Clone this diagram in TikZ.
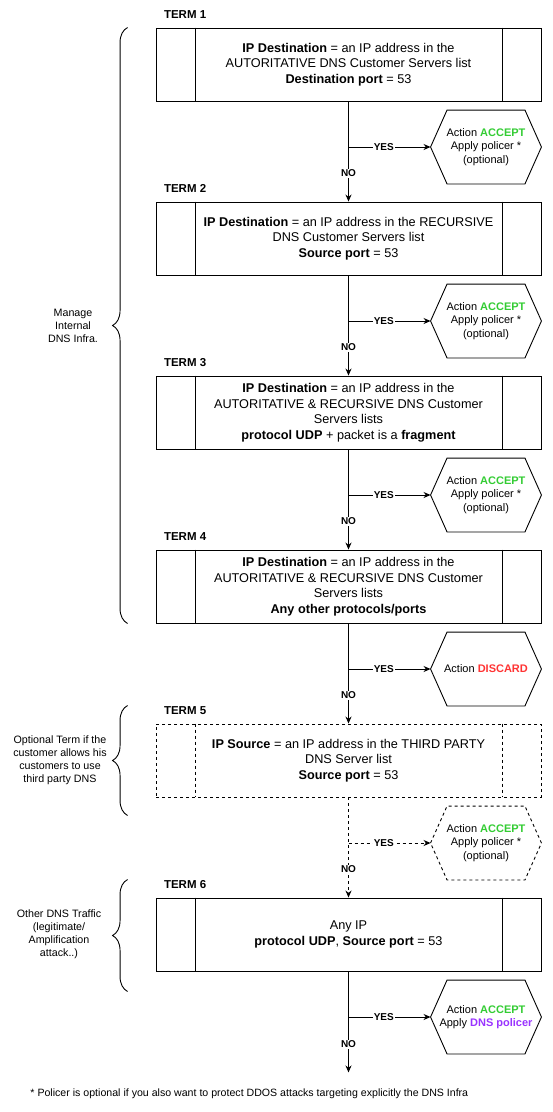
\documentclass[tikz,border=0pt]{standalone}
\usepackage{fontspec}
\setmainfont{Liberation Sans}
\usetikzlibrary{arrows.meta,decorations.pathreplacing}
\definecolor{acceptgreen}{HTML}{33CC33}
\definecolor{discardred}{HTML}{FF3333}
\definecolor{policerpurple}{HTML}{9933FF}
\newcommand{\accepttxt}{\textcolor{acceptgreen}{\bfseries ACCEPT}}
\tikzset{
  term/.style={draw, minimum width=385pt, minimum height=73pt, inner sep=0pt, align=center, font=\fontsize{12.7}{15.5}\selectfont},
  hexa/.style={minimum width=110pt, minimum height=73pt, inner sep=0pt, align=center, font=\fontsize{11}{13.2}\selectfont},
  lbl/.style={fill=white, inner sep=1pt, font=\bfseries\fontsize{10}{12}\selectfont},
  termlbl/.style={anchor=south west, inner sep=0pt, font=\bfseries\fontsize{11.5}{13}\selectfont},
  grp/.style={align=center, font=\fontsize{10.7}{13}\selectfont},
  brc/.style={decorate, decoration={brace, amplitude=15pt}},
  dsh/.style={dash pattern=on 3pt off 3pt},
}

\begin{document}
\begin{tikzpicture}[x=1pt, y=-1pt, line width=0.9pt, >={Stealth[length=7pt,width=6pt]}]
      \useasboundingbox (0,0) rectangle (552,1112);
      % terms
      \node[term] (t1) at (348.5,64.5) {\textbf{IP Destination} = an IP address in the\\AUTORITATIVE DNS Customer Servers list\\\textbf{Destination port} = 53};
      \node[term] (t2) at (348.5,238.5) {\textbf{IP Destination} = an IP address in the RECURSIVE\\DNS Customer Servers list\\\textbf{Source port} = 53};
      \node[term] (t3) at (348.5,412.5) {\textbf{IP Destination} = an IP address in the\\AUTORITATIVE \& RECURSIVE DNS Customer\\Servers lists\\\textbf{protocol UDP} + packet is a \textbf{fragment}};
      \node[term] (t4) at (348.5,586.5) {\textbf{IP Destination} = an IP address in the\\AUTORITATIVE \& RECURSIVE DNS Customer\\Servers lists\\\textbf{Any other protocols/ports}};
      \node[term,dsh] (t5) at (348.5,760.5) {\textbf{IP Source} = an IP address in the THIRD PARTY\\DNS Server list\\\textbf{Source port} = 53};
      \node[term] (t6) at (348.5,934.5) {Any IP\\\textbf{protocol UDP}, \textbf{Source port} = 53};
      \foreach \t in {t1,t2,t3,t4,t6}
        \draw ([xshift=39.5pt]\t.north west) -- ([xshift=39.5pt]\t.south west) ([xshift=-39pt]\t.north east) -- ([xshift=-39pt]\t.south east);
      \draw[dsh] ([xshift=39.5pt]t5.north west) -- ([xshift=39.5pt]t5.south west) ([xshift=-39pt]t5.north east) -- ([xshift=-39pt]t5.south east);
      \foreach \t/\n in {t1/1,t2/2,t3/3,t4/4,t5/5,t6/6}
        \node[termlbl] (l\n) at ([shift={(8pt,8.5pt)}]\t.north west) {TERM \n};
      % actions
      \node[hexa] (a1) at (486,147) {Action \accepttxt\\Apply policer *\\(optional)};
      \node[hexa] (a2) at (486,321) {Action \accepttxt\\Apply policer *\\(optional)};
      \node[hexa] (a3) at (486,495) {Action \accepttxt\\Apply policer *\\(optional)};
      \node[hexa] (a4) at (486,669) {Action \textcolor{discardred}{\bfseries DISCARD}};
      \node[hexa] (a5) at (486,843) {Action \accepttxt\\Apply policer *\\(optional)};
      \node[hexa] (a6) at (486,1017) {Action \accepttxt\\Apply \textcolor{policerpurple}{\bfseries DNS policer}};
      \foreach \a in {a1,a2,a3,a4,a6}
        \draw (\a.west) -- ([xshift=16.5pt]\a.north west) -- ([xshift=-16.5pt]\a.north east) -- (\a.east) -- ([xshift=-16.5pt]\a.south east) -- ([xshift=16.5pt]\a.south west) -- cycle;
      \draw[dsh] (a5.west) -- ([xshift=16.5pt]a5.north west) -- ([xshift=-16.5pt]a5.north east) -- (a5.east) -- ([xshift=-16.5pt]a5.south east) -- ([xshift=16.5pt]a5.south west) -- cycle;
      % flow
      \coordinate (end) at ([yshift=-101pt]t6.south);
      \foreach \i/\j in {1/2,2/3,3/4,4/5}
        \draw[->] (t\i) -- node[lbl,pos=.72] {NO} (t\j);
      \draw[->,dsh] (t5) -- node[lbl,pos=.72] {NO} (t6);
      \draw[->] (t6) -- node[lbl,pos=.72] {NO} (end);
      \foreach \i in {1,2,3,4,6} {
        \coordinate (s\i) at (t\i.south |- a\i);
        \draw[->] (s\i) -- node[lbl,pos=.43] {YES} (a\i.west);
      }
      \coordinate (s5) at (t5.south |- a5);
      \draw[->,dsh] (s5) -- node[lbl,pos=.43] {YES} (a5.west);
      % groups
      \draw[brc] ([xshift=-28pt]t4.south west) -- ([xshift=-28pt]t1.north west);
      \draw[brc] ([shift={(-28pt,-18pt)}]t5.south west) -- ([shift={(-28pt,18pt)}]t5.north west);
      \draw[brc] ([shift={(-28pt,-20pt)}]t6.south west) -- ([shift={(-28pt,18pt)}]t6.north west);
      \node[grp] (g1) at (73,326) {Manage\\Internal\\DNS Infra.};
      \node[grp] (g2) at (60,760) {Optional Term if the\\customer allows his\\customers to use\\third party DNS};
      \node[grp] (g3) at (59,934) {Other DNS Traffic\\(legitimate/\\Amplification\\attack..)};
      \node[anchor=west, inner sep=0pt, font=\fontsize{10.6}{12}\selectfont] (note) at (30,1094) {* Policer is optional if you also want to protect DDOS attacks targeting explicitly the DNS Infra};
    \end{tikzpicture}
\end{document}
